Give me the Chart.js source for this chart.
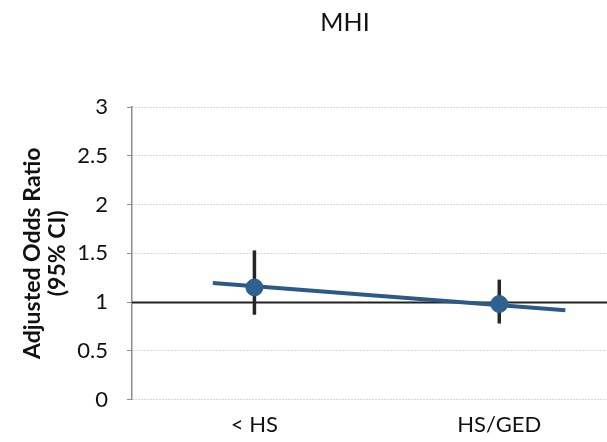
<!DOCTYPE html>
<html>
<head>
<meta charset="utf-8">
<script src="https://cdn.jsdelivr.net/npm/chart.js@4"></script>
<style>
  html, body { margin: 0; padding: 0; background: #fff; }
  #wrap { width: 607px; height: 442px; }
</style>
</head>
<body>
<div id="wrap"><canvas id="chart"></canvas></div>
<script>
// MHI adjusted odds ratios by education level

const categories = ['< HS', 'HS/GED'];
const categoryPos = [1, 2];
const oddsRatio = [1.15, 0.98];
const ciLower = [0.87, 0.78];
const ciUpper = [1.53, 1.23];

// trend line end points (x position, value)
const trendX = [0.83, 2.27];
const trendY = [1.195, 0.915];

const yTicks = [0, 0.5, 1, 1.5, 2, 2.5, 3];

const fontFamily = 'Lato, "Open Sans", sans-serif';

// Draw the reference line at 1 and the CI whiskers under the points
const errorBarPlugin = {
  id: 'errorBars',
  beforeDatasetsDraw(chart) {
    const { ctx, chartArea, scales } = chart;
    const x = scales.x;
    const y = scales.y;
    ctx.save();

    // solid reference line at OR = 1
    const y1 = Math.round(y.getPixelForValue(1)) + 0.5;
    ctx.strokeStyle = '#222';
    ctx.lineWidth = 2;
    ctx.beginPath();
    ctx.moveTo(chartArea.left, y1);
    ctx.lineTo(chartArea.right, y1);
    ctx.stroke();

    // whiskers
    ctx.strokeStyle = '#262626';
    ctx.lineWidth = 3.5;
    categoryPos.forEach((p, i) => {
      const px = x.getPixelForValue(p);
      ctx.beginPath();
      ctx.moveTo(px, y.getPixelForValue(ciLower[i]));
      ctx.lineTo(px, y.getPixelForValue(ciUpper[i]));
      ctx.stroke();
    });
    ctx.restore();
  }
};

// Title drawn over the plot area
const titlePlugin = {
  id: 'mhiTitle',
  afterDraw(chart) {
    const { ctx } = chart;
    ctx.save();
    ctx.font = '25px ' + fontFamily;
    ctx.fillStyle = '#111';
    ctx.textAlign = 'center';
    ctx.textBaseline = 'middle';
    ctx.fillText('MHI', 345, 23);
    ctx.restore();
  }
};

const ctx = document.getElementById('chart').getContext('2d');

new Chart(ctx, {
  type: 'scatter',
  data: {
    datasets: [
      {
        label: 'Adjusted OR',
        data: categoryPos.map((p, i) => ({ x: p, y: oddsRatio[i] })),
        backgroundColor: '#2e6090',
        borderColor: '#2e6090',
        pointRadius: 8.5,
        pointHoverRadius: 8.5,
        order: 1
      },
      {
        label: 'Trend',
        type: 'line',
        data: trendX.map((p, i) => ({ x: p, y: trendY[i] })),
        borderColor: '#2b5a88',
        borderWidth: 4,
        pointRadius: 0,
        fill: false,
        order: 2
      }
    ]
  },
  options: {
    responsive: true,
    maintainAspectRatio: false,
    animation: false,
    layout: {
      autoPadding: false,
      padding: { top: 107, left: 0, right: 0, bottom: -8 }
    },
    plugins: {
      legend: { display: false },
      tooltip: { enabled: false }
    },
    scales: {
      x: {
        type: 'linear',
        min: 0.5,
        max: 2.44,
        afterBuildTicks: (axis) => {
          axis.ticks = categoryPos.map(v => ({ value: v }));
        },
        afterFit: (scale) => {
          scale.paddingLeft = 0;
          scale.paddingRight = 0;
        },
        grid: { display: false, drawTicks: false },
        border: { display: false },
        ticks: {
          padding: 12,
          color: '#111',
          font: { family: fontFamily, size: 22 },
          callback: (value) => {
            const idx = categoryPos.indexOf(value);
            return idx >= 0 ? categories[idx] : '';
          }
        }
      },
      y: {
        min: 0,
        max: 3,
        afterBuildTicks: (axis) => {
          axis.ticks = yTicks.map(v => ({ value: v }));
        },
        afterFit: (scale) => {
          scale.width = 132;
        },
        grid: {
          color: '#b0b0b0',
          lineWidth: 1,
          tickColor: '#8c8c8c',
          tickLength: 5,
          tickBorderDash: []
        },
        border: { display: true, color: '#8c8c8c', width: 1.5, dash: [1, 2] },
        ticks: {
          padding: 19,
          color: '#111',
          font: { family: fontFamily, size: 22 },
          callback: (value) => String(value)
        },
        title: {
          display: true,
          text: ['Adjusted Odds Ratio', '(95% CI)'],
          color: '#111',
          font: { family: fontFamily, size: 23, weight: 'bold', lineHeight: 1.1 },
          padding: { top: 20, bottom: 0 }
        }
      }
    }
  },
  plugins: [errorBarPlugin, titlePlugin]
});
</script>
</body>
</html>
